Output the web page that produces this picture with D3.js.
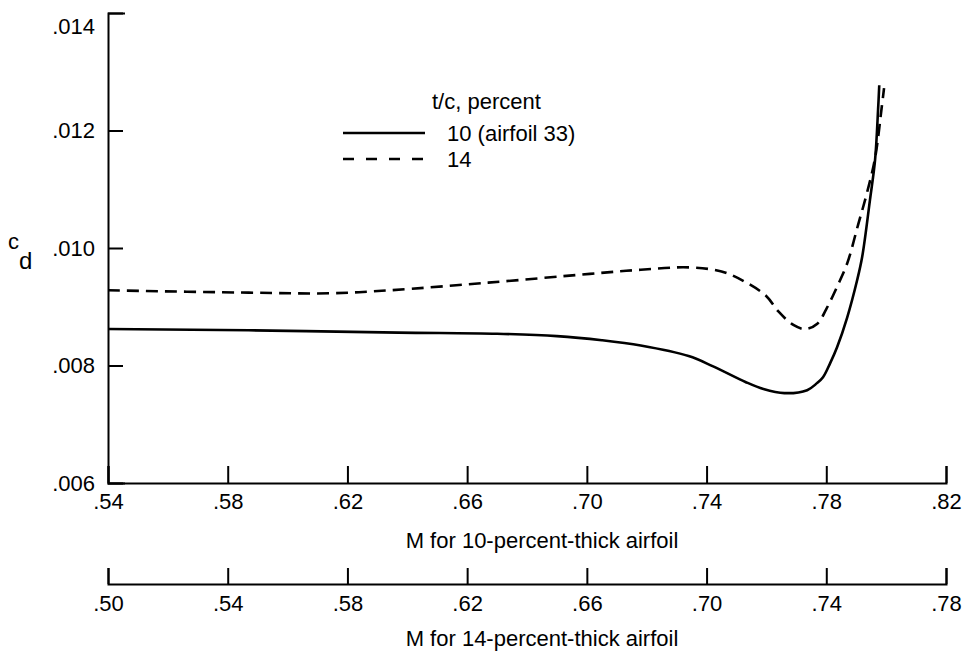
<!DOCTYPE html>
<html>
<head>
<meta charset="utf-8">
<script src="https://cdn.jsdelivr.net/npm/d3@7"></script>
<style>
  html, body { margin: 0; padding: 0; background: #fff; }
  svg { display: block; }
  text { font-family: "Liberation Sans", Arial, Helvetica, sans-serif; fill: #000; }
</style>
</head>
<body>
<svg id="chart" width="969" height="653"></svg>
<script>
// Section drag coefficient vs Mach number, two thickness ratios.
// 10-percent-thick airfoil (airfoil 33), Mach on the upper scale
const mach10 = [0.540, 0.587, 0.637, 0.670, 0.690, 0.705, 0.718, 0.734, 0.742, 0.753, 0.759,
                0.766, 0.7736, 0.7769, 0.7789, 0.7813, 0.7836, 0.787, 0.7903, 0.792, 0.7946, 0.7963, 0.7973, 0.7977];
const cd10   = [0.00862, 0.00860, 0.00856, 0.00854, 0.00850, 0.00843, 0.00834, 0.00816, 0.00799, 0.00772, 0.00760,
                0.00753, 0.00758, 0.00770, 0.00780, 0.00804, 0.00831, 0.00882, 0.00945, 0.00985, 0.01082, 0.01150, 0.01235, 0.01277];

// 14-percent-thick airfoil, Mach on the lower scale
const mach14 = [0.500, 0.547, 0.575, 0.594, 0.627, 0.661, 0.678, 0.694, 0.705, 0.713, 0.720,
                0.724, 0.729, 0.733, 0.737, 0.740, 0.7436, 0.7470, 0.7506, 0.7536, 0.7563, 0.7586, 0.7593];
const cd14   = [0.00928, 0.00924, 0.00923, 0.00928, 0.00941, 0.00956, 0.00963, 0.00967, 0.00960, 0.00942, 0.00918,
                0.00892, 0.00869, 0.00862, 0.00871, 0.00896, 0.00934, 0.00974, 0.01039, 0.01094, 0.01153, 0.01243, 0.01272];

const cdTicks = [0.006, 0.008, 0.010, 0.012, 0.014];
const mach10Ticks = [0.54, 0.58, 0.62, 0.66, 0.70, 0.74, 0.78, 0.82];
const mach14Ticks = [0.50, 0.54, 0.58, 0.62, 0.66, 0.70, 0.74, 0.78];

const legendTitle = "t/c, percent";
const legendLabels = ["10 (airfoil 33)", "14"];
const xTitle10 = "M for 10-percent-thick airfoil";
const xTitle14 = "M for 14-percent-thick airfoil";

const svg = d3.select("#chart");
const FS = 22;

const x10 = d3.scaleLinear().domain([0.54, 0.82]).range([108, 946]);
const x14 = d3.scaleLinear().domain([0.50, 0.78]).range([108, 946]);
const y = d3.scaleLinear().domain([0.006, 0.014]).range([483, 13]);

const fmt = d => d3.format(".3f")(d).replace(/^0/, "");
const fmt2 = d => d3.format(".2f")(d).replace(/^0/, "");

function styleAxis(g) {
  g.selectAll("path.domain").attr("stroke", "#000").attr("stroke-width", 2).attr("fill", "none");
  g.selectAll(".tick line").attr("stroke", "#000").attr("stroke-width", 2);
  g.selectAll(".tick text").attr("font-size", FS).attr("fill", "#000")
    .style("font-family", '"Liberation Sans", Arial, Helvetica, sans-serif');
}

// left axis, ticks pointing inward
const gy = svg.append("g").attr("transform", `translate(${x10.range()[0]},0)`)
  .call(d3.axisLeft(y).tickValues(cdTicks).tickFormat(fmt).tickSizeInner(-15).tickSizeOuter(-17).tickPadding(13));
styleAxis(gy);
// top label sits just below its tick
gy.selectAll(".tick").filter(d => d === d3.max(cdTicks)).select("text").attr("dy", "0.95em");

// upper Mach scale (10-percent)
const gx10 = svg.append("g").attr("transform", `translate(0,${y.range()[0]})`)
  .call(d3.axisBottom(x10).tickValues(mach10Ticks).tickFormat(fmt2).tickSizeInner(-17).tickSizeOuter(-17).tickPadding(10));
styleAxis(gx10);

// lower Mach scale (14-percent)
const gx14 = svg.append("g").attr("transform", "translate(0,584)")
  .call(d3.axisBottom(x14).tickValues(mach14Ticks).tickFormat(fmt2).tickSizeInner(-16).tickSizeOuter(-16).tickPadding(11));
styleAxis(gx14);

// axis titles
svg.append("text").attr("x", 542).attr("y", 548).attr("text-anchor", "middle")
  .attr("font-size", FS).text(xTitle10);
svg.append("text").attr("x", 542).attr("y", 646).attr("text-anchor", "middle")
  .attr("font-size", FS).text(xTitle14);

const cdLabel = svg.append("text").attr("x", 8).attr("y", 249).attr("font-size", FS);
cdLabel.append("tspan").text("c");
cdLabel.append("tspan").attr("font-size", 24).attr("dy", 20).text("d");

// curves
const line10 = d3.line().x((d, i) => x10(mach10[i])).y(d => y(d)).curve(d3.curveCatmullRom.alpha(0.5));
const line14 = d3.line().x((d, i) => x14(mach14[i])).y(d => y(d)).curve(d3.curveCatmullRom.alpha(0.5));

svg.append("path").attr("d", line10(cd10)).attr("fill", "none")
  .attr("stroke", "#000").attr("stroke-width", 2.6).attr("stroke-linejoin", "round");
svg.append("path").attr("d", line14(cd14)).attr("fill", "none")
  .attr("stroke", "#000").attr("stroke-width", 2.6).attr("stroke-dasharray", "12,7");

// legend
const lg = svg.append("g");
lg.append("text").attr("x", 432).attr("y", 109).attr("font-size", FS).text(legendTitle);
const legendDash = [null, "11,12"];
legendLabels.forEach((lab, i) => {
  const yy = 133 + i * 26;
  lg.append("line").attr("x1", 343).attr("x2", 425).attr("y1", yy).attr("y2", yy)
    .attr("stroke", "#000").attr("stroke-width", 2.6)
    .attr("stroke-dasharray", legendDash[i]);
  lg.append("text").attr("x", 447).attr("y", yy + 8).attr("font-size", FS).text(lab);
});
</script>
</body>
</html>
